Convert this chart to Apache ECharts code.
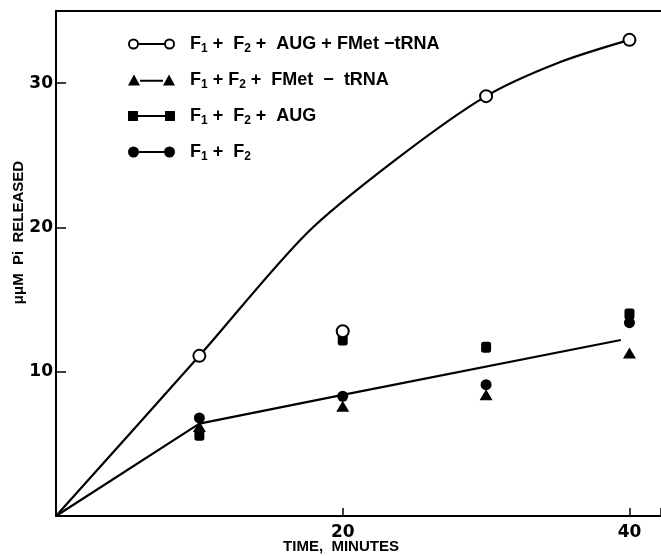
<!DOCTYPE html>
<html>
<head>
<meta charset="utf-8">
<script src="https://cdn.jsdelivr.net/npm/echarts@6/dist/echarts.min.js"></script>
<style>html,body{margin:0;padding:0;background:#fff;}#c{width:661px;height:556px;}</style>
</head>
<body>
<div id="c"></div>
<script>
// ---- data ----
const times = [10, 20, 30, 40];
const seriesNames = [
  'F1 + F2 + AUG + FMet-tRNA',
  'F1 + F2 + FMet - tRNA',
  'F1 + F2 + AUG',
  'F1 + F2'
];
const augFmet = [11.1, 12.8, 29.1, 33.0];   // open circles
const fmetOnly = [6.2, 7.6, 8.4, 11.3];     // triangles
const augOnly = [5.6, 12.2, 11.7, 14.0];    // squares
const f1f2 = [6.8, 8.3, 9.1, 13.4];         // filled circles

// hand-drawn curves
const upperCurveX = [0, 10, 17.5, 23.7, 30, 35, 40];
const upperCurveY = [0, 11.1, 19.6, 24.7, 29.1, 31.4, 33.0];
const lowerLineX = [0, 10, 20, 39.4];
const lowerLineY = [0, 6.4, 8.4, 12.2];

const xTicks = [20, 40];
const yTicks = [10, 20, 30];

const pair = (xs, ys) => xs.map((x, i) => [x, ys[i]]);

const legendRich = {
  'F1 + F2 + AUG + FMet-tRNA': '{n|F}{s|1}{n| +  F}{s|2}{n| +  AUG + FMet \u2212tRNA}',
  'F1 + F2 + FMet - tRNA': '{n|F}{s|1}{n| + F}{s|2}{n| +  FMet  \u2212  tRNA}',
  'F1 + F2 + AUG': '{n|F}{s|1}{n| +  F}{s|2}{n| +  AUG}',
  'F1 + F2': '{n|F}{s|1}{n| +  F}{s|2}'
};

const icons = [
  'path://M0,5.5A5.5,5.5 0 1 1 11,5.5A5.5,5.5 0 1 1 0,5.5Z M1.9,5.5A3.6,3.6 0 1 0 9.1,5.5A3.6,3.6 0 1 0 1.9,5.5Z M11,4.6L36,4.6L36,6.4L11,6.4Z M36,5.5A5.5,5.5 0 1 1 47,5.5A5.5,5.5 0 1 1 36,5.5Z M37.9,5.5A3.6,3.6 0 1 0 45.1,5.5A3.6,3.6 0 1 0 37.9,5.5Z',
  'path://M0,11L6,0L12,11Z M12,5.2L35,5.2L35,7.2L12,7.2Z M35,11L41,0L47,11Z',
  'path://M0,0.5L10,0.5L10,10.5L0,10.5Z M10,4.5L37,4.5L37,6.5L10,6.5Z M37,0.5L47,0.5L47,10.5L37,10.5Z',
  'path://M0,5.5A5.5,5.5 0 1 1 11,5.5A5.5,5.5 0 1 1 0,5.5Z M11,4.5L36,4.5L36,6.5L11,6.5Z M36,5.5A5.5,5.5 0 1 1 47,5.5A5.5,5.5 0 1 1 36,5.5Z'
];

const chart = echarts.init(document.getElementById('c'), null, {renderer: 'canvas'});
const black = '#000';
const axisFont = 'DejaVu Sans';
const textFont = 'Liberation Sans';

chart.setOption({
  backgroundColor: '#fff',
  animation: false,
  grid: {left: 56, right: 0, top: 11, bottom: 40, containLabel: false, outerBoundsMode: 'none'},
  legend: {
    orient: 'vertical',
    left: 123,
    top: 30,
    itemWidth: 47,
    itemHeight: 11,
    itemGap: 16,
    selectedMode: false,
    itemStyle: {borderWidth: 0, opacity: 1, color: black},
    data: seriesNames.map((n, i) => ({name: n, icon: icons[i]})),
    formatter: name => legendRich[name],
    textStyle: {
      color: black,
      padding: [0, 0, 0, 10],
      rich: {
        n: {fontFamily: textFont, fontWeight: 'bold', fontSize: 18, lineHeight: 22, color: black, verticalAlign: 'middle'},
        s: {fontFamily: textFont, fontWeight: 'bold', fontSize: 12, lineHeight: 12, color: black, verticalAlign: 'bottom'}
      }
    }
  },
  xAxis: [{
    type: 'value', min: 0, max: 42.2, interval: 20,
    name: 'TIME,  MINUTES', nameLocation: 'middle', nameGap: 23, nameMoveOverlap: false,
    nameTextStyle: {fontFamily: textFont, fontWeight: 'bold', fontSize: 15, color: black, padding: [0, 35, 0, 0]},
    axisLine: {show: true, onZero: false, lineStyle: {color: black, width: 2}},
    axisTick: {show: true, inside: true, length: 8, lineStyle: {color: black, width: 1.5}},
    axisLabel: {
      margin: 8, fontFamily: axisFont, fontWeight: 'bold', fontSize: 17, color: black,
      formatter: v => xTicks.includes(v) ? String(v) : ''
    },
    splitLine: {show: false}
  }, {
    type: 'value', position: 'top', min: 0, max: 42.2,
    axisLine: {show: true, onZero: false, lineStyle: {color: black, width: 2}},
    axisTick: {show: false}, axisLabel: {show: false}, splitLine: {show: false}
  }],
  yAxis: {
    type: 'value', min: 0, max: 35, interval: 10,
    name: '\u03bc\u03bcM  Pi  RELEASED', nameLocation: 'middle', nameGap: 30, nameMoveOverlap: false,
    nameTextStyle: {fontFamily: textFont, fontWeight: 'bold', fontSize: 15, color: black, padding: [0, 0, 0, 62]},
    axisLine: {show: true, onZero: false, lineStyle: {color: black, width: 2}},
    axisTick: {show: true, inside: true, length: 10, lineStyle: {color: black, width: 1.5}},
    axisLabel: {
      margin: 3, fontFamily: axisFont, fontWeight: 'bold', fontSize: 17, color: black,
      formatter: v => yTicks.includes(v) ? String(v) : ''
    },
    splitLine: {show: false}
  },
  series: [
    {
      name: 'upper curve', type: 'line', smooth: 0.3, showSymbol: false, silent: true,
      data: pair(upperCurveX, upperCurveY),
      lineStyle: {color: black, width: 2.2}, z: 1
    },
    {
      name: 'lower line', type: 'line', smooth: false, showSymbol: false, silent: true,
      data: pair(lowerLineX, lowerLineY),
      lineStyle: {color: black, width: 2.2}, z: 1
    },
    {
      name: seriesNames[2], type: 'scatter', symbol: 'roundRect', symbolSize: [10, 11],
      data: pair(times, augOnly), itemStyle: {color: black, opacity: 1}, z: 3
    },
    {
      name: seriesNames[1], type: 'scatter', symbol: 'triangle', symbolSize: [13, 11],
      data: pair(times, fmetOnly), itemStyle: {color: black, opacity: 1}, z: 3
    },
    {
      name: seriesNames[3], type: 'scatter', symbol: 'circle', symbolSize: 11,
      data: pair(times, f1f2), itemStyle: {color: black, opacity: 1}, z: 3
    },
    {
      name: seriesNames[0], type: 'scatter', symbol: 'emptyCircle', symbolSize: 12,
      data: pair(times, augFmet), itemStyle: {color: black, borderColor: black, borderWidth: 2.2, opacity: 1}, z: 4
    }
  ]
});
</script>
</body>
</html>
